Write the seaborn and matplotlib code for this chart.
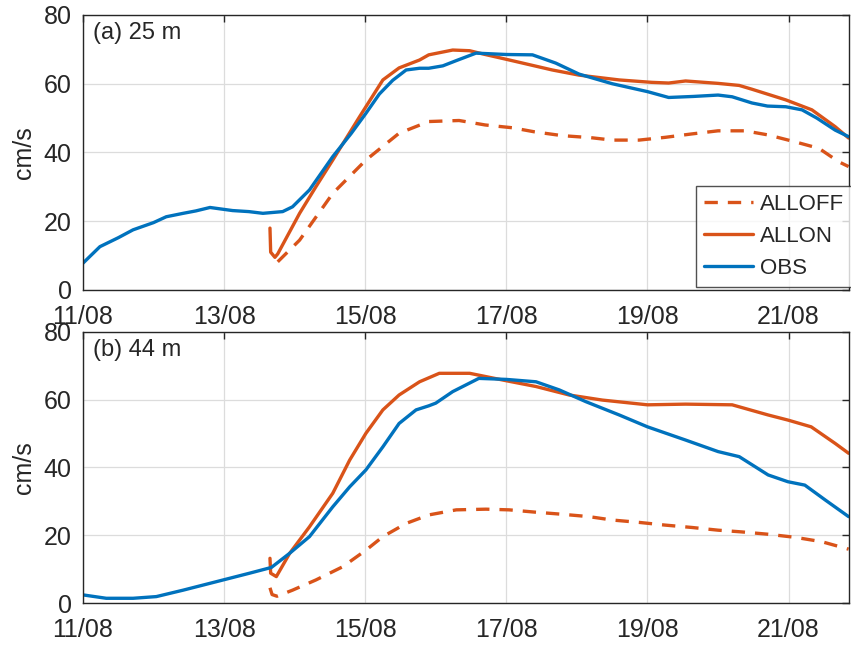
import numpy as np
import pandas as pd
import matplotlib
matplotlib.use("Agg")
import matplotlib.pyplot as plt
import matplotlib.dates as mdates
import seaborn as sns

# ---------------- data (day of August 2018, cm/s) ----------------
a_obs_day = [11.0, 11.24, 11.5, 11.71, 12.0, 12.18, 12.42, 12.6, 12.8, 13.12, 13.35, 13.55, 13.83,
             13.97, 14.21, 14.54, 14.8, 15.01, 15.2, 15.39, 15.58, 15.77, 15.9, 16.1, 16.3, 16.57,
             17.0, 17.37, 17.7, 18.03, 18.5, 19.0, 19.3, 19.65, 20.0, 20.2, 20.48, 20.7, 20.96,
             21.19, 21.4, 21.66, 21.85]
a_obs_val = [7.8, 12.6, 15.2, 17.5, 19.6, 21.3, 22.3, 23.0, 24.0, 23.1, 22.8, 22.3, 22.8,
             24.2, 29.1, 38.8, 45.5, 51.4, 57.0, 61.0, 64.0, 64.5, 64.5, 65.2, 66.8, 68.9,
             68.5, 68.4, 66.0, 62.8, 60.0, 57.7, 56.0, 56.3, 56.7, 56.2, 54.4, 53.5, 53.3,
             52.4, 50.0, 46.5, 44.6]
a_on_day = [13.65, 13.66, 13.72, 13.76, 14.07, 14.3, 14.54, 14.92, 15.25, 15.48, 15.77, 15.9,
            16.24, 16.48, 16.7, 17.0, 17.65, 18.03, 18.6, 19.06, 19.3, 19.54, 20.0, 20.3, 20.48,
            20.96, 21.33, 21.66, 21.85]
a_on_val = [18.0, 11.0, 9.5, 10.5, 22.3, 30.0, 37.8, 50.4, 61.1, 64.6, 66.9, 68.4,
            69.8, 69.6, 68.5, 67.1, 64.0, 62.5, 61.1, 60.4, 60.2, 60.8, 60.1, 59.5, 58.4,
            55.3, 52.4, 47.5, 44.2]
a_off_day = [13.76, 14.07, 14.54, 15.01, 15.48, 15.9, 16.33, 16.7, 17.08, 17.4, 17.79, 18.2,
             18.5, 18.88, 19.25, 19.63, 20.0, 20.38, 20.71, 21.09, 21.43, 21.71, 21.85]
a_off_val = [8.2, 14.5, 28.1, 37.8, 45.6, 49.0, 49.3, 48.0, 47.2, 46.0, 44.9, 44.3,
             43.6, 43.6, 44.4, 45.4, 46.3, 46.3, 45.1, 43.1, 41.2, 37.3, 35.9]

b_obs_day = [11.0, 11.33, 11.71, 12.04, 12.42, 12.89, 13.36, 13.67, 13.93, 14.21, 14.54, 14.78,
             15.01, 15.25, 15.48, 15.72, 15.9, 16.0, 16.24, 16.61, 17.0, 17.42, 17.75, 18.13,
             18.6, 19.0, 19.54, 20.0, 20.3, 20.71, 20.99, 21.23, 21.52, 21.85]
b_obs_val = [2.4, 1.4, 1.4, 1.9, 3.8, 6.3, 8.8, 10.5, 14.7, 19.6, 28.4, 34.3,
             39.3, 46.1, 53.0, 57.0, 58.2, 59.0, 62.4, 66.3, 66.0, 65.3, 62.9, 59.4,
             55.5, 52.0, 48.1, 44.7, 43.2, 37.8, 35.8, 34.8, 30.4, 25.5]
b_on_day = [13.65, 13.66, 13.74, 13.93, 14.21, 14.54, 14.78, 15.01, 15.25, 15.48, 15.77, 16.05,
            16.48, 17.0, 17.42, 17.89, 18.36, 19.0, 19.54, 20.2, 20.71, 20.99, 21.32, 21.66, 21.85]
b_on_val = [13.2, 8.8, 7.8, 14.7, 22.5, 32.4, 42.2, 50.1, 57.0, 61.4, 65.3, 67.8,
            67.8, 65.6, 63.9, 61.4, 59.9, 58.5, 58.7, 58.5, 55.5, 54.0, 52.0, 47.1, 44.2]
b_off_day = [13.65, 13.68, 13.75, 13.97, 14.3, 14.68, 15.01, 15.25, 15.58, 15.9, 16.29, 16.71,
             17.04, 17.42, 17.79, 18.17, 18.5, 18.88, 19.25, 19.63, 20.0, 20.33, 20.71, 21.09,
             21.47, 21.85]
b_off_val = [4.5, 2.5, 2.0, 3.8, 6.8, 10.7, 15.6, 19.6, 23.5, 26.0, 27.5, 27.7,
             27.5, 26.8, 26.2, 25.5, 24.5, 23.8, 23.0, 22.3, 21.5, 21.0, 20.3, 19.4,
             18.1, 15.9]

panel_titles = ["(a) 25 m", "(b) 44 m"]
series_names = ["ALLOFF", "ALLON", "OBS"]
tick_days = [11, 13, 15, 17, 19, 21]
y_ticks = [0, 20, 40, 60, 80]

# ---------------- styling ----------------
sns.set_theme(style="white")
plt.rcParams["font.family"] = ["Liberation Sans", "DejaVu Sans"]
TXT = "#262626"
ORANGE = "#D95319"
BLUE = "#0072BD"

base = pd.Timestamp("2018-08-01")


def to_dt(days):
    return base + pd.to_timedelta(np.asarray(days) - 1.0, unit="D")


fig = plt.figure(figsize=(8.51, 6.48), dpi=100)
ax_a = fig.add_axes([0.0975, 0.5525, 0.9005, 0.4244])
ax_b = fig.add_axes([0.0975, 0.0694, 0.9005, 0.4183])

panels = [
    (ax_a, (a_off_day, a_off_val), (a_on_day, a_on_val), (a_obs_day, a_obs_val)),
    (ax_b, (b_off_day, b_off_val), (b_on_day, b_on_val), (b_obs_day, b_obs_val)),
]

LW = 2.4
for i, (ax, off, on, obs) in enumerate(panels):
    sns.lineplot(x=to_dt(off[0]), y=off[1], ax=ax, color=ORANGE, lw=LW,
                 label=series_names[0], linestyle=(0, (4.0, 3.0)))
    sns.lineplot(x=to_dt(on[0]), y=on[1], ax=ax, color=ORANGE, lw=LW,
                 label=series_names[1])
    sns.lineplot(x=to_dt(obs[0]), y=obs[1], ax=ax, color=BLUE, lw=LW,
                 label=series_names[2])

    ax.set_xlim(to_dt([11.0])[0], to_dt([21.86])[0])
    ax.set_ylim(0, 80)
    ax.set_xticks(to_dt(tick_days))
    ax.xaxis.set_major_formatter(mdates.DateFormatter("%d/%m"))
    ax.set_yticks(y_ticks)
    ax.grid(True, color="#dcdcdc", lw=0.9)
    ax.set_axisbelow(True)
    for sp in ax.spines.values():
        sp.set_visible(True)
        sp.set_color(TXT)
        sp.set_linewidth(1.0)
    ax.tick_params(direction="in", length=5, width=1.0, colors=TXT,
                   labelsize=18, top=True, right=True, labelcolor=TXT)
    ax.tick_params(axis="x", pad=11)
    ax.tick_params(axis="y", pad=8)
    ax.set_ylabel("cm/s", fontsize=18, color=TXT, labelpad=6)
    ax.set_xlabel("")
    ax.text(0.013, 0.975, panel_titles[i], transform=ax.transAxes, fontsize=17,
            color=TXT, va="top", ha="left")

    if i == 0:
        leg = ax.legend(loc="lower right", bbox_to_anchor=(1.003, 0.012),
                        borderaxespad=0, fontsize=16, frameon=True, fancybox=False,
                        handlelength=2.2, handletextpad=0.3, labelspacing=0.5,
                        borderpad=0.35)
        leg.get_frame().set_edgecolor(TXT)
        leg.get_frame().set_linewidth(1.0)
        for t in leg.get_texts():
            t.set_color(TXT)
    else:
        ax.get_legend().remove()

fig.savefig("out.png", dpi=100)
